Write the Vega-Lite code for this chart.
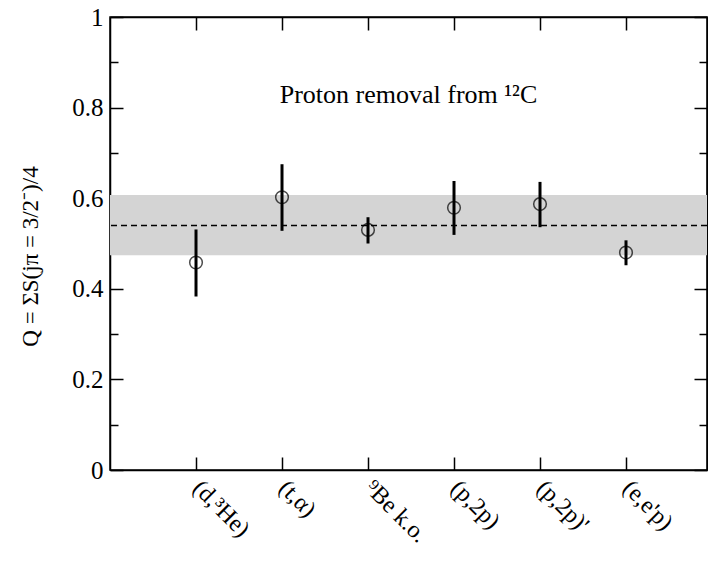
{
  "$schema": "https://vega.github.io/schema/vega-lite/v6.json",
  "width": 597,
  "height": 453,
  "autosize": {"type": "none"},
  "padding": {"left": 110, "top": 17, "right": 1, "bottom": 91},
  "background": "white",
  "config": {
    "view": {"stroke": "black", "strokeWidth": 1.5},
    "font": "Liberation Serif",
    "axis": {"domainColor": "black", "domainWidth": 1.5, "tickColor": "black", "tickWidth": 1.5, "grid": false, "labelColor": "black", "titleColor": "black", "labelFont": "Liberation Serif", "titleFont": "Liberation Serif"}
  },
  "datasets": {
    "pts": [
      {"method": "(d,³He)", "Q": 0.458, "lo": 0.383, "hi": 0.531},
      {"method": "(t,α)", "Q": 0.602, "lo": 0.528, "hi": 0.675},
      {"method": "⁹Be k.o.", "Q": 0.530, "lo": 0.500, "hi": 0.558},
      {"method": "(p,2p)", "Q": 0.579, "lo": 0.519, "hi": 0.638},
      {"method": "(p,2p)'", "Q": 0.587, "lo": 0.536, "hi": 0.636},
      {"method": "(e,e'p)", "Q": 0.480, "lo": 0.452, "hi": 0.507}
    ],
    "band": [{"lo": 0.474, "hi": 0.607, "mean": 0.540}],
    "note": [{"label": "Proton removal from ¹²C", "yv": 0.81}]
  },
  "layer": [
    {
      "data": {"name": "band"},
      "mark": {"type": "rect", "color": "#d4d4d4"},
      "encoding": {
        "y": {"field": "lo", "type": "quantitative", "scale": {"domain": [0, 1], "nice": false}, "axis": null},
        "y2": {"field": "hi"}
      }
    },
    {
      "data": {"name": "band"},
      "mark": {"type": "rule", "color": "black", "strokeWidth": 1.5, "strokeDash": [6, 4]},
      "encoding": {
        "y": {"field": "mean", "type": "quantitative", "axis": null}
      }
    },
    {
      "data": {"name": "pts"},
      "mark": {"type": "rule", "color": "black", "strokeWidth": 3},
      "encoding": {
        "x": {
          "field": "method", "type": "ordinal", "sort": null,
          "scale": {"type": "point", "padding": 0.971, "align": 0.515},
          "axis": {
            "orient": "bottom", "title": null, "labelAngle": 45, "labelAlign": "left", "labelBaseline": "middle",
            "labelFontSize": 24, "labelPadding": 27, "tickSize": -13, "domain": true
          }
        },
        "y": {
          "field": "lo", "type": "quantitative", "scale": {"domain": [0, 1], "nice": false},
          "axis": {
            "orient": "left", "values": [0, 0.1, 0.2, 0.3, 0.4, 0.5, 0.6, 0.7, 0.8, 0.9, 1],
            "format": "~g",
            "labelExpr": "round(datum.value*10) % 2 === 0 ? datum.label : ''",
            "tickSize": {"condition": {"test": "round(datum.value*10) % 2 === 0", "value": -13}, "value": -8},
            "labelFontSize": 25, "labelPadding": 20,
            "title": "Q = ΣS(jπ = 3/2⁻)/4", "titleFontSize": 23, "titleFontWeight": "normal",
            "titleAngle": -90, "titleX": -80, "titleY": 239, "titleBaseline": "middle", "titleAlign": "center"
          }
        },
        "y2": {"field": "hi"}
      }
    },
    {
      "data": {"name": "pts"},
      "mark": {"type": "point", "shape": "circle", "filled": false, "color": "black", "size": 160, "strokeWidth": 1.5},
      "encoding": {
        "x": {
          "field": "method", "type": "ordinal", "sort": null,
          "axis": {"orient": "top", "title": null, "labels": false, "tickSize": -13}
        },
        "y": {
          "field": "Q", "type": "quantitative",
          "axis": {
            "orient": "right", "title": null, "labels": false,
            "values": [0, 0.1, 0.2, 0.3, 0.4, 0.5, 0.6, 0.7, 0.8, 0.9, 1],
            "tickSize": {"condition": {"test": "round(datum.value*10) % 2 === 0", "value": -13}, "value": -8}
          }
        }
      }
    },
    {
      "data": {"name": "note"},
      "mark": {"type": "text", "fontSize": 26, "color": "black", "align": "center", "baseline": "alphabetic", "font": "Liberation Serif"},
      "encoding": {
        "y": {"field": "yv", "type": "quantitative", "axis": null},
        "text": {"field": "label"}
      }
    }
  ],
  "resolve": {"axis": {"x": "independent", "y": "independent"}}
}
